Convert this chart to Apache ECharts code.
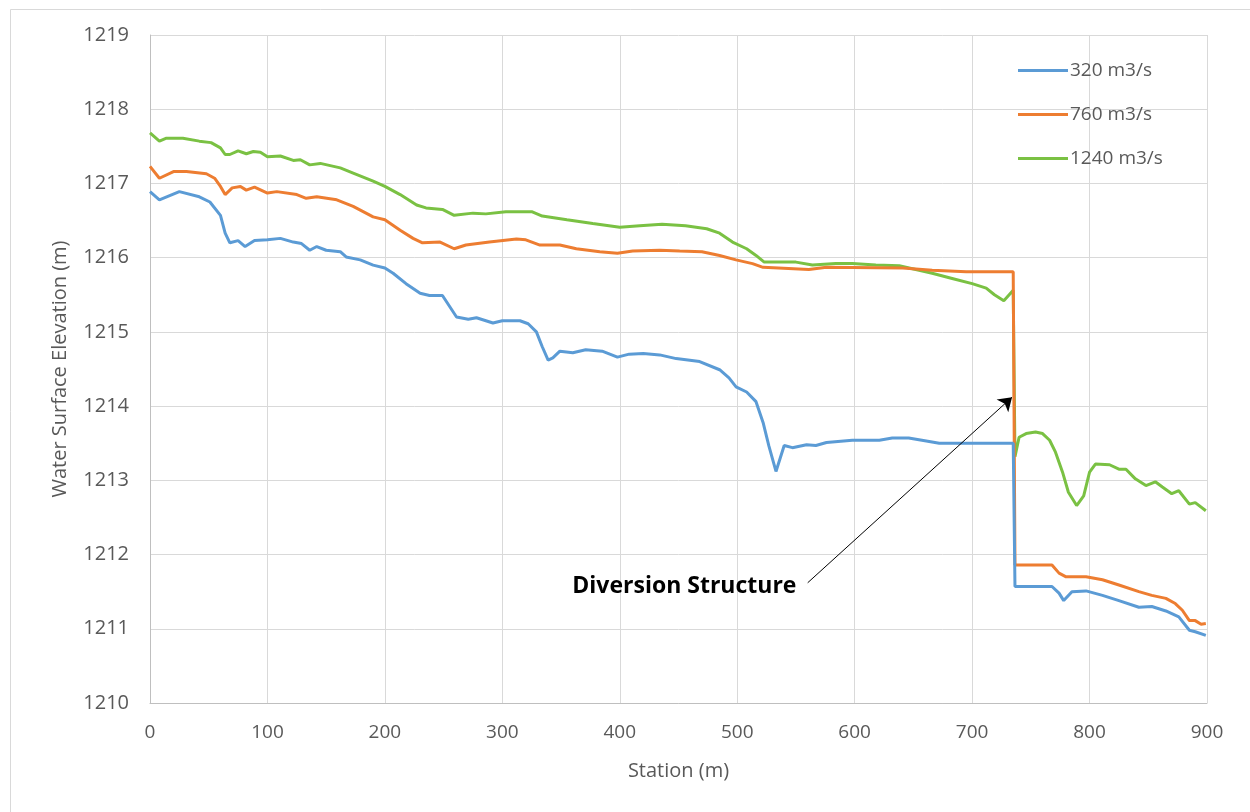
<!DOCTYPE html>
<html>
<head>
<meta charset="utf-8">
<script src="https://cdn.jsdelivr.net/npm/echarts@6/dist/echarts.min.js"></script>
<style>html,body{margin:0;padding:0;background:#fff}#c{width:1250px;height:812px}</style>
</head>
<body>
<div id="c"></div>
<script>
// ---- data (station m, water surface elevation m) ----
const seriesNames = ['320 m3/s', '760 m3/s', '1240 m3/s'];
const xTicks = [0, 100, 200, 300, 400, 500, 600, 700, 800, 900];
const yTicks = [1210, 1211, 1212, 1213, 1214, 1215, 1216, 1217, 1218, 1219];

const st320 = [0,8,25,42,51,60,64,68,75,81,89,100,111,122,129,136,142,150,162,167,179,190,200,207,218,230,238,249,261,271,278,292,300,315,322,329,334,339,343,349,360,371,385,398,408,420,434,448,468,485,493,499,508,516,522,527,533,540,547,559,567,576,598,621,632,646,661,672,735,736.5,768,774,778,785,797,811,825,842,853,865,876,885,890,899];
const ws320 = [1216.89,1216.78,1216.89,1216.82,1216.75,1216.57,1216.33,1216.20,1216.23,1216.15,1216.23,1216.24,1216.26,1216.21,1216.19,1216.10,1216.15,1216.10,1216.08,1216.01,1215.97,1215.90,1215.86,1215.79,1215.65,1215.52,1215.49,1215.49,1215.20,1215.17,1215.19,1215.12,1215.15,1215.15,1215.11,1215.00,1214.80,1214.62,1214.65,1214.74,1214.72,1214.76,1214.74,1214.66,1214.70,1214.71,1214.69,1214.64,1214.60,1214.49,1214.38,1214.26,1214.19,1214.06,1213.78,1213.46,1213.12,1213.47,1213.44,1213.48,1213.47,1213.51,1213.54,1213.54,1213.57,1213.57,1213.53,1213.50,1213.50,1211.57,1211.57,1211.48,1211.38,1211.50,1211.51,1211.45,1211.38,1211.29,1211.30,1211.24,1211.16,1210.98,1210.96,1210.91];

const st760 = [0,8,20,31,48,55,60,64,70,77,82,89,100,108,125,133,142,159,173,190,200,213,224,232,247,259,269,289,312,320,332,349,363,383,398,411,434,451,470,485,499,513,522,561,576,641,666,695,735,736.5,768,774,780,797,811,825,842,853,865,873,879,885,890,895,899];
const ws760 = [1217.23,1217.07,1217.16,1217.16,1217.13,1217.07,1216.96,1216.85,1216.94,1216.96,1216.91,1216.95,1216.87,1216.89,1216.85,1216.80,1216.82,1216.78,1216.69,1216.55,1216.51,1216.37,1216.26,1216.20,1216.21,1216.12,1216.17,1216.21,1216.25,1216.24,1216.17,1216.17,1216.12,1216.08,1216.06,1216.09,1216.10,1216.09,1216.08,1216.03,1215.97,1215.92,1215.87,1215.84,1215.87,1215.86,1215.83,1215.81,1215.81,1211.86,1211.86,1211.75,1211.70,1211.70,1211.66,1211.59,1211.50,1211.45,1211.41,1211.34,1211.25,1211.11,1211.11,1211.06,1211.07];

const st1240 = [0,8,14,28,42,52,60,64,68,75,82,88,94,100,111,122,128,136,145,162,173,190,200,213,227,235,249,259,275,286,303,325,334,355,377,400,417,436,456,474,485,496,508,516,523,536,550,564,584,598,618,638,652,666,683,700,712,719,727,735,736.5,740,746,754,760,766,771,777,782,789,795,800,805,817,825,831,839,848,856,862,870,876,885,890,899];
const ws1240 = [1217.68,1217.57,1217.61,1217.61,1217.57,1217.55,1217.48,1217.39,1217.39,1217.44,1217.40,1217.43,1217.42,1217.36,1217.37,1217.31,1217.32,1217.25,1217.27,1217.21,1217.14,1217.03,1216.96,1216.85,1216.71,1216.67,1216.65,1216.57,1216.60,1216.59,1216.62,1216.62,1216.56,1216.51,1216.46,1216.41,1216.43,1216.45,1216.43,1216.39,1216.33,1216.21,1216.12,1216.03,1215.94,1215.94,1215.94,1215.90,1215.92,1215.92,1215.90,1215.89,1215.84,1215.79,1215.72,1215.65,1215.59,1215.50,1215.42,1215.56,1213.32,1213.58,1213.63,1213.65,1213.63,1213.54,1213.38,1213.11,1212.84,1212.66,1212.79,1213.11,1213.22,1213.21,1213.15,1213.15,1213.02,1212.93,1212.98,1212.91,1212.82,1212.86,1212.68,1212.70,1212.59];

// annotation (data coordinates)
const annoText = 'Diversion Structure';
const annoTextAt = [455, 1211.57];
const arrowFrom = [560, 1211.62];
const arrowTo = [734, 1214.12];

const colors = ['#5B9BD5', '#ED7D31', '#7AC143'];
const zip = (xs, ys) => xs.map((x, i) => [x, ys[i]]);
const FONT = '"Open Sans", sans-serif';
const GRAY = '#595959';

const chart = echarts.init(document.getElementById('c'), null, {renderer: 'canvas'});
chart.setOption({
  animation: false,
  backgroundColor: '#ffffff',
  graphic: [{
    type: 'rect', left: 8, top: 7, shape: {width: 1260, height: 820},
    style: {fill: 'none', stroke: '#d9d9d9', lineWidth: 1}, silent: true
  }],
  grid: {left: 150, right: 43, top: 35, bottom: 109},
  legend: {
    orient: 'vertical', left: 1013, top: 55,
    icon: 'rect', itemWidth: 50, itemHeight: 3, itemGap: 23,
    data: seriesNames,
    textStyle: {fontFamily: FONT, fontSize: 19, color: GRAY, lineHeight: 21, padding: [0, 0, 0, -3]}
  },
  xAxis: {
    type: 'value', min: xTicks[0], max: xTicks[xTicks.length - 1], interval: 100,
    name: 'Station (m)', nameLocation: 'middle', nameGap: 58,
    nameTextStyle: {fontFamily: FONT, fontSize: 20, color: GRAY},
    axisLine: {show: true, lineStyle: {color: '#bfbfbf', width: 1}},
    axisTick: {show: false},
    axisLabel: {fontFamily: FONT, fontSize: 19, color: GRAY, margin: 20, formatter: v => String(v)},
    splitLine: {show: true, lineStyle: {color: '#d9d9d9', width: 1}}
  },
  yAxis: {
    type: 'value', min: yTicks[0], max: yTicks[yTicks.length - 1], interval: 1,
    name: 'Water Surface Elevation (m)', nameLocation: 'middle', nameGap: 80,
    nameTextStyle: {fontFamily: FONT, fontSize: 20, color: GRAY},
    axisLine: {show: true, lineStyle: {color: '#bfbfbf', width: 1}},
    axisTick: {show: false},
    axisLabel: {fontFamily: FONT, fontSize: 20, color: GRAY, margin: 21, formatter: v => String(v)},
    splitLine: {show: true, lineStyle: {color: '#d9d9d9', width: 1}}
  },
  series: [
    {name: seriesNames[0], type: 'line', data: zip(st320, ws320), symbol: 'none',
     lineStyle: {color: colors[0], width: 3}, itemStyle: {color: colors[0]}, z: 3,
     markLine: {
       silent: true, symbol: ['none', 'arrow'], symbolSize: 13,
       lineStyle: {color: '#000', width: 1, type: 'solid'}, itemStyle: {color: '#000'}, label: {show: false},
       data: [[{coord: arrowFrom}, {coord: arrowTo}]]
     },
     markPoint: {
       silent: true, symbol: 'circle', symbolSize: 0,
       label: {show: true, position: 'inside', formatter: annoText, fontFamily: FONT, fontWeight: 'bold', fontSize: 23, color: '#000'},
       data: [{coord: annoTextAt}]
     }},
    {name: seriesNames[1], type: 'line', data: zip(st760, ws760), symbol: 'none',
     lineStyle: {color: colors[1], width: 3}, itemStyle: {color: colors[1]}, z: 2},
    {name: seriesNames[2], type: 'line', data: zip(st1240, ws1240), symbol: 'none',
     lineStyle: {color: colors[2], width: 3}, itemStyle: {color: colors[2]}, z: 1}
  ]
});
</script>
</body>
</html>
